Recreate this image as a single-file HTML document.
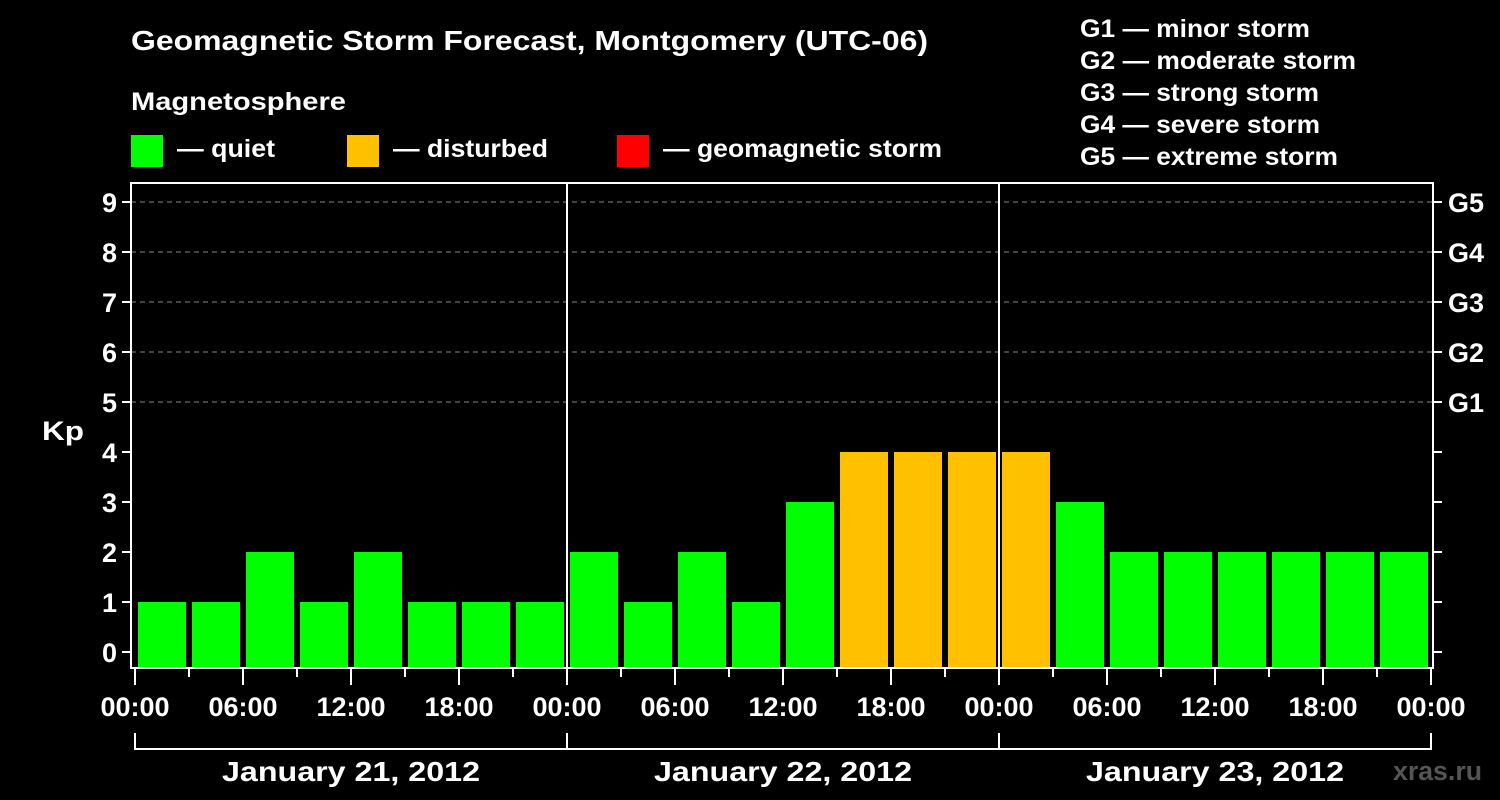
<!DOCTYPE html>
<html><head><meta charset="utf-8"><style>
html,body{margin:0;padding:0;background:#000;}
svg{display:block;font-family:"Liberation Sans",sans-serif;font-weight:bold;}
</style></head><body>
<svg id="chart" width="1500" height="800">
<rect width="1500" height="800" fill="#000"/>
<text x="131" y="50" fill="#fff" font-size="28" textLength="797" lengthAdjust="spacingAndGlyphs">Geomagnetic Storm Forecast, Montgomery (UTC-06)</text>
<text x="131" y="110" fill="#fff" font-size="25" textLength="215" lengthAdjust="spacingAndGlyphs">Magnetosphere</text>
<g><rect x="131" y="135" width="32" height="32" fill="#00ff00"/><text x="177" y="157" fill="#fff" font-size="25" textLength="98" lengthAdjust="spacingAndGlyphs">— quiet</text></g>
<g><rect x="347" y="135" width="32" height="32" fill="#ffc000"/><text x="393" y="157" fill="#fff" font-size="25" textLength="155" lengthAdjust="spacingAndGlyphs">— disturbed</text></g>
<g><rect x="617" y="135" width="32" height="32" fill="#ff0000"/><text x="663" y="157" fill="#fff" font-size="25" textLength="279" lengthAdjust="spacingAndGlyphs">— geomagnetic storm</text></g>
<g fill="#fff" font-size="25">
<text x="1080" y="37" textLength="230" lengthAdjust="spacingAndGlyphs">G1 — minor storm</text>
<text x="1080" y="69" textLength="276" lengthAdjust="spacingAndGlyphs">G2 — moderate storm</text>
<text x="1080" y="101" textLength="239" lengthAdjust="spacingAndGlyphs">G3 — strong storm</text>
<text x="1080" y="133" textLength="240" lengthAdjust="spacingAndGlyphs">G4 — severe storm</text>
<text x="1080" y="165" textLength="258" lengthAdjust="spacingAndGlyphs">G5 — extreme storm</text>
</g>
<text x="42" y="440" fill="#fff" font-size="27" textLength="42" lengthAdjust="spacingAndGlyphs">Kp</text>
<text x="1393" y="780" fill="#555" font-size="27" textLength="89" lengthAdjust="spacingAndGlyphs">xras.ru</text>
<g id="plot"></g>
</svg>
<script>
const kpValues=[1,1,2,1,2,1,1,1,2,1,2,1,3,4,4,4,4,3,2,2,2,2,2,2];
const yTicks=[0,1,2,3,4,5,6,7,8,9];
const gLabels=["G1","G2","G3","G4","G5"];
const xTickLabels=["00:00","06:00","12:00","18:00","00:00","06:00","12:00","18:00","00:00","06:00","12:00","18:00","00:00"];
const dayLabels=["January 21, 2012","January 22, 2012","January 23, 2012"];
const NS="http://www.w3.org/2000/svg";
const plotG=document.getElementById('plot');
const x0=135,dayW=432,pLeft=131,pRight=1433,plotTop=183,plotBottom=668;
const xs=h=>x0+h*dayW/24;
const ys=v=>652-v*50;
function mk(t,a){const e=document.createElementNS(NS,t);for(const k in a)e.setAttribute(k,a[k]);plotG.appendChild(e);return e;}
for(const v of yTicks){
 if(v>=5){
  const l=mk('line',{x1:pLeft,x2:pRight,y1:ys(v),y2:ys(v),stroke:'#888','stroke-dasharray':'5,4'});
  
  
 }
 const t=mk('line',{x1:pLeft-9,x2:pLeft,y1:ys(v),y2:ys(v),stroke:'#fff','stroke-width':2});
 
 
 const rt=mk('line',{x1:pRight,x2:pRight+9,y1:ys(v),y2:ys(v),stroke:'#fff','stroke-width':2});
 
 
 const tx=mk('text',{x:pLeft-14,y:ys(v)+10,fill:'#fff','font-size':27,'text-anchor':'end'});
 tx.textContent=v;
 
 
}
gLabels.forEach((s,i)=>{
 const tx=mk('text',{x:1448,y:ys(5+i)+10,fill:'#fff','font-size':27});
 tx.textContent=s;
 
 
});
kpValues.forEach((v,i)=>{
 const col=v>=5?'#ff0000':(v>=4?'#ffc000':'#00ff00');
 const b=mk('rect',{x:xs(i*3)+3,y:ys(v),width:dayW/8-6,height:plotBottom-ys(v),fill:col});
 
 
});
const fr=mk('rect',{x:pLeft,y:plotTop,width:pRight-pLeft,height:plotBottom-plotTop,fill:'none',stroke:'#fff','stroke-width':2});


for(let d=1;d<3;d++){
 const l=mk('line',{x1:xs(d*24),x2:xs(d*24),y1:plotTop,y2:plotBottom,stroke:'#fff','stroke-width':2});
 
 
}
for(let h=0;h<=72;h+=3){
 const major=h%6===0;
 const l=mk('line',{x1:xs(h),x2:xs(h),y1:plotBottom,y2:plotBottom+(major?17:9),stroke:'#fff','stroke-width':2});
 
 
}
xTickLabels.forEach((s,i)=>{
 const tx=mk('text',{x:xs(i*6),y:716,fill:'#fff','font-size':27,'text-anchor':'middle'});
 tx.textContent=s;
 
 
});
const br=mk('path',{d:`M${xs(0)},733 V749 H${xs(72)} V733 M${xs(24)},733 V749 M${xs(48)},733 V749`,fill:'none',stroke:'#fff','stroke-width':2});


dayLabels.forEach((s,i)=>{
 const tx=mk('text',{x:xs(i*24+12),y:781,fill:'#fff','font-size':28,'text-anchor':'middle',textLength:258,lengthAdjust:'spacingAndGlyphs'});
 tx.textContent=s;
 
 
});
</script>
</body></html>
